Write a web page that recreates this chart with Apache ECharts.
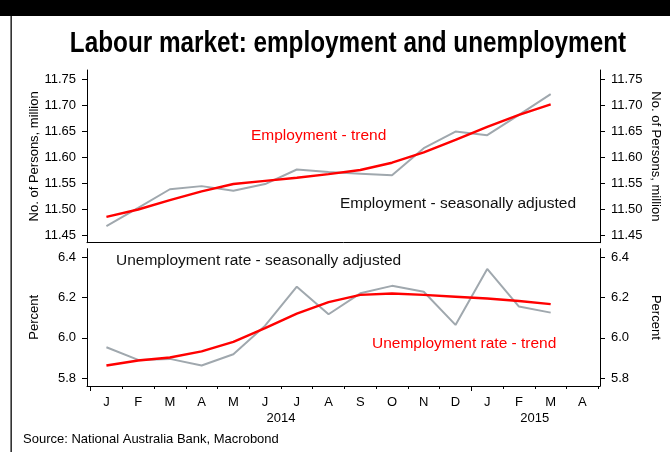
<!DOCTYPE html>
<html>
<head>
<meta charset="utf-8">
<script src="https://cdn.jsdelivr.net/npm/echarts@6/dist/echarts.min.js"></script>
<style>
html,body{margin:0;padding:0;background:#fff;}
#chart{width:670px;height:452px;}
</style>
</head>
<body>
<div id="chart"></div>
<script>
// ---- data ----
const months = ['J','F','M','A','M','J','J','A','S','O','N','D','J','F','M','A'];
const years = ['2014','2015'];
const yearLabelPos = [5.5, 13.5];
const yearStartPos = [-0.5, 11.5];
const empTicks = [11.45, 11.50, 11.55, 11.60, 11.65, 11.70, 11.75];
const rateTicks = [5.8, 6.0, 6.2, 6.4];
const empSA    = [11.467, 11.502, 11.538, 11.544, 11.535, 11.548, 11.576, 11.571, 11.568, 11.565, 11.617, 11.649, 11.642, 11.681, 11.721];
const empTrend = [11.485, 11.499, 11.517, 11.534, 11.548, 11.554, 11.560, 11.567, 11.575, 11.589, 11.609, 11.633, 11.658, 11.681, 11.701];
const rateSA    = [5.953, 5.890, 5.895, 5.862, 5.918, 6.060, 6.254, 6.117, 6.221, 6.258, 6.229, 6.064, 6.342, 6.155, 6.125];
const rateTrend = [5.862, 5.887, 5.902, 5.932, 5.980, 6.048, 6.120, 6.177, 6.213, 6.220, 6.213, 6.204, 6.195, 6.183, 6.167];

const FONT = "'Liberation Sans', Arial, Helvetica, sans-serif";
const GRAY = '#a0a8ae';
const RED = '#ff0000';
const XMIN = -0.612, XMAX = 15.554;

const pts = arr => arr.map((v, i) => [i, v]);
const monthTickVals = months.map((m, i) => i - 0.5).concat([months.length - 0.5])
  .filter(v => yearStartPos.indexOf(v) < 0);

function yAx(gridIndex, pos, min, max, ticks, dec, name) {
  return {
    type: 'value', gridIndex, position: pos, min, max,
    name, nameLocation: 'middle', nameGap: pos === 'left' ? 46 : 49, nameRotate: pos === 'left' ? 90 : -90,
    nameMoveOverlap: false,
    nameTextStyle: { fontFamily: FONT, fontSize: 13, color: '#000' },
    axisLine: { show: true, onZero: false, lineStyle: { color: '#000', width: 1 } },
    axisTick: { show: true, inside: false, length: 5, customValues: ticks, lineStyle: { color: '#000' } },
    axisLabel: { show: true, margin: 11, customValues: ticks, fontFamily: FONT, fontSize: 13, color: '#000',
      formatter: v => Number(v).toFixed(dec) },
    splitLine: { show: false }
  };
}

const chart = echarts.init(document.getElementById('chart'), null, { renderer: 'canvas' });
const option = {
  backgroundColor: '#fff',
  animation: false,
  grid: [
    { left: 87, right: 64.3, top: 70, height: 172.7, containLabel: false },
    { left: 87, right: 64.3, top: 248.7, height: 137.3, containLabel: false }
  ],
  xAxis: [
    { type: 'value', gridIndex: 0, position: 'bottom', min: XMIN, max: XMAX,
      axisLine: { show: true, onZero: false, lineStyle: { color: '#000' } },
      axisTick: { show: false }, axisLabel: { show: false }, splitLine: { show: false } },
    { type: 'value', gridIndex: 1, position: 'bottom', min: XMIN, max: XMAX,
      axisLine: { show: true, onZero: false, lineStyle: { color: '#000' } },
      axisTick: { show: true, length: 3, customValues: monthTickVals, lineStyle: { color: '#000' } },
      axisLabel: { show: true, margin: 10, customValues: months.map((m, i) => i),
        formatter: v => months[Math.round(v)], fontFamily: FONT, fontSize: 13, color: '#000' },
      splitLine: { show: false } },
    { type: 'value', gridIndex: 1, position: 'bottom', min: XMIN, max: XMAX,
      axisLine: { show: false, onZero: false },
      axisTick: { show: true, length: 5, customValues: yearStartPos, lineStyle: { color: '#000' } },
      axisLabel: { show: true, margin: 26, customValues: yearLabelPos,
        formatter: v => years[yearLabelPos.indexOf(v)], fontFamily: FONT, fontSize: 13, color: '#000' },
      splitLine: { show: false } }
  ],
  yAxis: [
    yAx(0, 'left', 11.4352, 11.7673, empTicks, 2, 'No. of Persons, million'),
    yAx(0, 'right', 11.4352, 11.7673, empTicks, 2, 'No. of Persons, million'),
    yAx(1, 'left', 5.7602, 6.4427, rateTicks, 1, 'Percent'),
    yAx(1, 'right', 5.7602, 6.4427, rateTicks, 1, 'Percent')
  ],
  series: [
    { type: 'line', xAxisIndex: 0, yAxisIndex: 0, data: pts(empSA), showSymbol: false,
      lineStyle: { color: GRAY, width: 2 }, z: 2 },
    { type: 'line', xAxisIndex: 0, yAxisIndex: 0, data: pts(empTrend), showSymbol: false,
      lineStyle: { color: RED, width: 2.4 }, z: 3 },
    { type: 'line', xAxisIndex: 1, yAxisIndex: 2, data: pts(rateSA), showSymbol: false,
      lineStyle: { color: GRAY, width: 2 }, z: 2 },
    { type: 'line', xAxisIndex: 1, yAxisIndex: 2, data: pts(rateTrend), showSymbol: false,
      lineStyle: { color: RED, width: 2.4 }, z: 3 }
  ],
  graphic: [
    { type: 'rect', shape: { x: 0, y: 0, width: 670, height: 16 }, style: { fill: '#000' } },
    { type: 'rect', shape: { x: 10.5, y: 16, width: 1.3, height: 436 }, style: { fill: '#000' } },
    { type: 'text', x: 348, y: 44, scaleX: 0.81, originX: 0, originY: 0,
      style: { text: 'Labour market: employment and unemployment', font: 'bold 30px ' + FONT,
        fill: '#000', align: 'center', verticalAlign: 'middle' } },
    { type: 'text', x: 251, y: 136,
      style: { text: 'Employment - trend', font: '15.5px ' + FONT, fill: RED, align: 'left', verticalAlign: 'middle' } },
    { type: 'text', x: 340, y: 203.5,
      style: { text: 'Employment - seasonally adjusted', font: '15.5px ' + FONT, fill: '#111', align: 'left', verticalAlign: 'middle' } },
    { type: 'text', x: 116, y: 261,
      style: { text: 'Unemployment rate - seasonally adjusted', font: '15.5px ' + FONT, fill: '#111', align: 'left', verticalAlign: 'middle' } },
    { type: 'text', x: 372, y: 344,
      style: { text: 'Unemployment rate - trend', font: '15.5px ' + FONT, fill: RED, align: 'left', verticalAlign: 'middle' } },
    { type: 'text', x: 23, y: 439,
      style: { text: 'Source: National Australia Bank, Macrobond', font: '13px ' + FONT, fill: '#000', align: 'left', verticalAlign: 'middle' } }
  ]
};
chart.setOption(option);
</script>
</body>
</html>
